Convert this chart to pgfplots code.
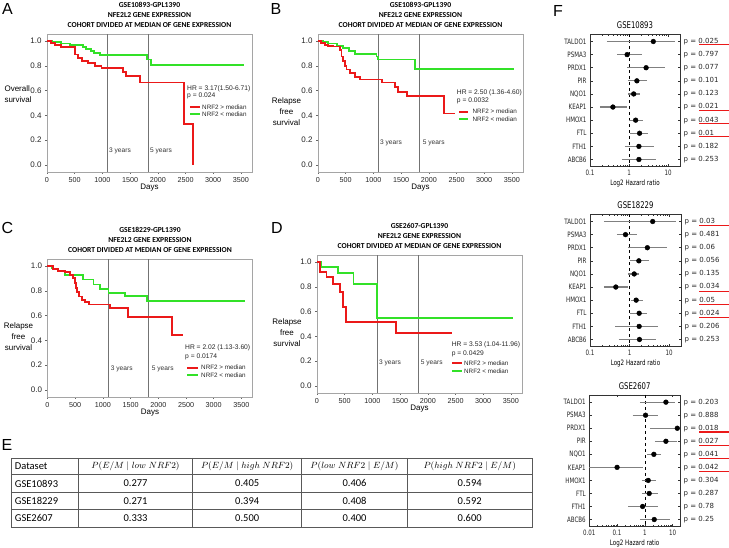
\documentclass[border=0pt]{standalone}
\usepackage{pgfplots}
\pgfplotsset{compat=1.18}
\usepackage{fontspec}
\setmainfont{Liberation Sans}
\newfontfamily\carlito{Carlito}
\newfontfamily\fcond[FakeStretch=0.75]{DejaVu Sans}
\newfontfamily\deja{DejaVu Sans}
\definecolor{kmred}{RGB}{235,25,25}
\definecolor{kmgreen}{RGB}{50,225,40}
\definecolor{framegray}{RGB}{165,165,165}

\pgfplotsset{
  kmaxis/.style={
    scale only axis, width=205pt, height=138pt,
    xmin=0, xmax=3700, ymin=-0.056, ymax=1.056,
    xtick={0,500,1000,1500,2000,2500,3000,3500},
    xticklabels={0,500,1000,1500,2000,2500,3000,3500},
    ytick={0,0.2,0.4,0.6,0.8,1},
    yticklabels={0.0,0.2,0.4,0.6,0.8,1.0},
    xticklabel style={font=\fontsize{7.2}{8}\selectfont, text=black!85},
    yticklabel style={font=\fontsize{8}{9}\selectfont, text=black!85},
    tick align=outside, tick pos=left, major tick length=2pt,
    axis line style={framegray, line width=0.6pt},
    tick style={black!60, line width=0.5pt},
    xlabel={Days}, xlabel style={font=\fontsize{8}{9}\selectfont, yshift=5pt},
    clip=false,
    title style={font=\carlito\bfseries\fontsize{7.6}{10}\selectfont, align=center, yshift=-3pt},
  },
  redcurve/.style={const plot, color=kmred, line width=1.8pt, mark=none},
  greencurve/.style={const plot, color=kmgreen, line width=1.8pt, mark=none},
  yrline/.style={black!55, line width=0.8pt, forget plot},
  forestaxis/.style={
    scale only axis,
    ymin=-0.55, ymax=9.55, y dir=reverse,
    ytick={0,1,2,3,4,5,6,7,8,9},
    yticklabels={TALDO1,PSMA3,PRDX1,PIR,NQO1,KEAP1,HMOX1,FTL,FTH1,ABCB6},
    tick label style={font=\fcond\fontsize{7.4}{8}\selectfont, text=black!85},
    xlabel={Log2 Hazard ratio}, xlabel style={font=\fcond\fontsize{7.4}{8}\selectfont, yshift=3pt},
    title style={font=\fcond\fontsize{9.2}{10}\selectfont, yshift=-4pt},
    ytick pos=both, yticklabel pos=left,
    tick align=inside,
    major tick length=2.5pt, minor tick length=1.5pt,
    axis line style={black!80, line width=0.6pt},
    tick style={black!80, line width=0.5pt},
    clip=false,
  },
  cibar/.style={color=black!50, line width=1.3pt, unbounded coords=jump, mark=none},
  hrdot/.style={only marks, mark=*, mark size=2.4pt, black},
}
\tikzset{
  hrtext/.style={anchor=west, inner sep=0, font=\fontsize{6.7}{7}\selectfont, text=black!85},
  legtext/.style={anchor=west, inner sep=0, font=\fontsize{6.3}{7}\selectfont, text=black!85},
  yrtext/.style={anchor=west, inner sep=0, font=\fontsize{6.6}{7}\selectfont, text=black!80},
  pv/.style={anchor=west, inner sep=0, xshift=3.5pt, font=\deja\fontsize{7}{8}\selectfont, text=black!85},
  letter/.style={font=\fontsize{16}{18}\selectfont},
  ylab/.style={font=\fontsize{8}{11}\selectfont, align=center},
  tab/.style={font=\carlito\fontsize{10.5}{12}\selectfont, inner sep=0},
  tabh/.style={font=\fontsize{9.2}{11}\selectfont, inner sep=0},
  ul/.style={kmred, line width=1.1pt},
}

\begin{document}
\begin{tikzpicture}[x=1pt,y=1pt]
\useasboundingbox (0,0) rectangle (729,548);

% ---------------- A
\begin{axis}[kmaxis, at={(47pt,376pt)}, anchor=south west,
  title={GSE10893-GPL1390\\NFE2L2 GENE EXPRESSION\\COHORT DIVIDED AT MEDIAN OF GENE EXPRESSION}]
\addplot[yrline] coordinates {(1095,-0.056)(1095,1.056)};
\addplot[yrline] coordinates {(1825,-0.056)(1825,1.056)};
\addplot[greencurve] coordinates {(0,1)(100,0.99)(250,0.98)(420,0.97)(650,0.95)(700,0.935)(790,0.92)(850,0.905)(960,0.885)(1800,0.85)(1870,0.805)(3550,0.805)};
\addplot[redcurve] coordinates {(0,1)(70,0.985)(150,0.97)(250,0.95)(505,0.89)(565,0.86)(625,0.84)(745,0.82)(865,0.80)(985,0.785)(1378,0.75)(1426,0.72)(1680,0.665)(2478,0.33)(2640,0)};
\node[hrtext] at (axis cs:2527,0.613) {HR = 3.17(1.50-6.71)};
\node[hrtext] at (axis cs:2527,0.556) {p = 0.024};
\draw[kmred, line width=2pt] (axis cs:2581,0.468) -- (axis cs:2762,0.468);
\node[legtext] at (axis cs:2798,0.468) {NRF2 > median};
\draw[kmgreen, line width=2pt] (axis cs:2581,0.411) -- (axis cs:2762,0.411);
\node[legtext] at (axis cs:2798,0.411) {NRF2 < median};
\node[yrtext] at (axis cs:1119,0.113) {3 years};
\node[yrtext] at (axis cs:1859,0.113) {5 years};
\end{axis}

% ---------------- B
\begin{axis}[kmaxis, at={(318pt,376pt)}, anchor=south west,
  title={GSE10893-GPL1390\\NFE2L2 GENE EXPRESSION\\COHORT DIVIDED AT MEDIAN OF GENE EXPRESSION}]
\addplot[yrline] coordinates {(1095,-0.056)(1095,1.056)};
\addplot[yrline] coordinates {(1825,-0.056)(1825,1.056)};
\addplot[greencurve] coordinates {(0,1)(100,0.99)(185,0.98)(336,0.96)(455,0.94)(560,0.92)(665,0.897)(1055,0.875)(1085,0.85)(1745,0.775)(3540,0.775)};
\addplot[redcurve] coordinates {(0,1)(60,0.985)(120,0.97)(180,0.96)(280,0.955)(400,0.93)(425,0.875)(455,0.84)(485,0.80)(515,0.77)(575,0.74)(665,0.71)(755,0.69)(1150,0.665)(1390,0.63)(1450,0.59)(1600,0.555)(2270,0.415)(2480,0.415)};
\node[hrtext] at (axis cs:2504,0.586) {HR = 2.50 (1.36-4.60)};
\node[hrtext] at (axis cs:2504,0.514) {p = 0.0032};
\draw[kmred, line width=2pt] (axis cs:2546,0.43) -- (axis cs:2708,0.43);
\node[legtext] at (axis cs:2785,0.43) {NRF2 > median};
\draw[kmgreen, line width=2pt] (axis cs:2546,0.369) -- (axis cs:2708,0.369);
\node[legtext] at (axis cs:2785,0.369) {NRF2 < median};
\node[yrtext] at (axis cs:1119,0.18) {3 years};
\node[yrtext] at (axis cs:1890,0.18) {5 years};
\end{axis}

% ---------------- C
\begin{axis}[kmaxis, at={(47.5pt,151pt)}, anchor=south west,
  title={GSE18229-GPL1390\\NFE2L2 GENE EXPRESSION\\COHORT DIVIDED AT MEDIAN OF GENE EXPRESSION}]
\addplot[yrline] coordinates {(1095,-0.056)(1095,1.056)};
\addplot[yrline] coordinates {(1825,-0.056)(1825,1.056)};
\addplot[greencurve] coordinates {(0,1)(80,0.98)(180,0.96)(316,0.93)(640,0.89)(830,0.85)(950,0.815)(1100,0.78)(1400,0.755)(1790,0.715)(3560,0.715)};
\addplot[redcurve] coordinates {(0,1)(105,0.976)(195,0.96)(316,0.95)(406,0.927)(466,0.906)(496,0.86)(514,0.82)(538,0.793)(574,0.753)(617,0.726)(677,0.707)(755,0.69)(1128,0.659)(1459,0.59)(2242,0.444)(2451,0.444)};
\node[hrtext] at (axis cs:2482,0.341) {HR = 2.02 (1.13-3.60)};
\node[hrtext] at (axis cs:2482,0.269) {p = 0.0174};
\draw[kmred, line width=2pt] (axis cs:2518,0.18) -- (axis cs:2717,0.18);
\node[legtext] at (axis cs:2771,0.18) {NRF2 > median};
\draw[kmgreen, line width=2pt] (axis cs:2518,0.121) -- (axis cs:2717,0.121);
\node[legtext] at (axis cs:2771,0.121) {NRF2 < median};
\node[yrtext] at (axis cs:1141,0.169) {3 years};
\node[yrtext] at (axis cs:1881,0.169) {5 years};
\end{axis}

% ---------------- D
\begin{axis}[kmaxis, at={(317pt,155pt)}, anchor=south west,
  title={GSE2607-GPL1390\\NFE2L2 GENE EXPRESSION\\COHORT DIVIDED AT MEDIAN OF GENE EXPRESSION}]
\addplot[yrline] coordinates {(1095,-0.056)(1095,1.056)};
\addplot[yrline] coordinates {(1825,-0.056)(1825,1.056)};
\addplot[greencurve] coordinates {(0,1)(75,0.962)(375,0.909)(660,0.823)(1080,0.546)(3540,0.546)};
\addplot[redcurve] coordinates {(0,1)(60,0.922)(170,0.877)(290,0.82)(410,0.756)(470,0.637)(520,0.519)(1430,0.43)(2430,0.43)};
\node[hrtext] at (axis cs:2431,0.331) {HR = 3.53 (1.04-11.96)};
\node[hrtext] at (axis cs:2431,0.258) {p = 0.0429};
\draw[kmred, line width=2pt] (axis cs:2437,0.185) -- (axis cs:2617,0.185);
\node[legtext] at (axis cs:2653,0.185) {NRF2 > median};
\draw[kmgreen, line width=2pt] (axis cs:2437,0.121) -- (axis cs:2617,0.121);
\node[legtext] at (axis cs:2653,0.121) {NRF2 < median};
\node[yrtext] at (axis cs:1119,0.185) {3 years};
\node[yrtext] at (axis cs:1872,0.185) {5 years};
\end{axis}

% y labels and letters
\node[ylab, anchor=west, align=left] at (1,454) {Overall\\survival};
\node[ylab] at (286.5,436.7) {Relapse\\free\\survival};
\node[ylab] at (18.5,211.3) {Relapse\\free\\survival};
\node[ylab] at (287,215.5) {Relapse\\free\\survival};
\node[letter] at (7.5,539) {A};
\node[letter] at (276,539) {B};
\node[letter] at (7.5,320.5) {C};
\node[letter] at (277,320) {D};
\node[letter] at (7,103) {E};
\node[letter] at (558,537) {F};

% ---------------- E table
\draw[black!65, line width=0.6pt] (11,90) rectangle (532,21);
\foreach \yy in {73.5,56,38.5} \draw[black!65, line width=0.6pt] (11,\yy) -- (532,\yy);
\foreach \xx in {78.3,192.7,301.7,407.3} \draw[black!65, line width=0.6pt] (\xx,90) -- (\xx,21);
\node[tab, anchor=west] at (14.7,82) {Dataset};
\node[tabh] at (135.5,82) {$P(E/M \mid low\ NRF2)$};
\node[tabh] at (247.2,82) {$P(E/M \mid high\ NRF2)$};
\node[tabh] at (354.5,82) {$P(low\ NRF2 \mid E/M)$};
\node[tabh] at (469.7,82) {$P(high\ NRF2 \mid E/M)$};
\node[tab, anchor=west] at (14.7,64.5) {GSE10893};
\node[tab, anchor=west] at (14.7,47) {GSE18229};
\node[tab, anchor=west] at (14.7,30) {GSE2607};
\node[tab] at (135.5,64.5) {0.277};
\node[tab] at (247.2,64.5) {0.405};
\node[tab] at (354.5,64.5) {0.406};
\node[tab] at (469.7,64.5) {0.594};
\node[tab] at (135.5,47) {0.271};
\node[tab] at (247.2,47) {0.394};
\node[tab] at (354.5,47) {0.408};
\node[tab] at (469.7,47) {0.592};
\node[tab] at (135.5,30) {0.333};
\node[tab] at (247.2,30) {0.500};
\node[tab] at (354.5,30) {0.400};
\node[tab] at (469.7,30) {0.600};

% ---------------- F1
\begin{axis}[forestaxis, xmode=log, at={(590pt,381.3pt)}, anchor=south west, width=90pt, height=132.4pt,
  xmin=0.1, xmax=20, xtick={0.1,1,10}, xticklabels={0.1,1,10},
  minor xtick={0.2,0.3,0.4,0.5,0.6,0.7,0.8,0.9,2,3,4,5,6,7,8,9}, title={GSE10893}]
\addplot[black, dashed, line width=0.7pt, forget plot] coordinates {(1,-0.55)(1,9.55)};
\addplot[cibar] coordinates {(0.27,0)(15.3,0) (nan,nan) (0.5,1)(2.16,1) (nan,nan) (0.89,2)(8.27,2) (nan,nan) (0.94,3)(2.82,3) (nan,nan) (0.94,4)(1.85,4) (nan,nan) (0.178,5)(0.89,5) (nan,nan) (1.0,6)(2.33,6) (nan,nan) (1.08,7)(2.99,7) (nan,nan) (0.78,8)(4.39,8) (nan,nan) (0.65,9)(5.0,9)};
\addplot[hrdot] coordinates {(4.15,0)(0.89,1)(2.72,2)(1.58,3)(1.31,4)(0.385,5)(1.47,6)(1.85,7)(1.78,8)(1.78,9)};
\node[pv] at (axis cs:20,0) {p = 0.025};
\node[pv] at (axis cs:20,1) {p = 0.797};
\node[pv] at (axis cs:20,2) {p = 0.077};
\node[pv] at (axis cs:20,3) {p = 0.101};
\node[pv] at (axis cs:20,4) {p = 0.123};
\node[pv] at (axis cs:20,5) {p = 0.021};
\node[pv] at (axis cs:20,6) {p = 0.043};
\node[pv] at (axis cs:20,7) {p = 0.01};
\node[pv] at (axis cs:20,8) {p = 0.182};
\node[pv] at (axis cs:20,9) {p = 0.253};
\end{axis}

% ---------------- F2
\begin{axis}[forestaxis, xmode=log, at={(590pt,201.3pt)}, anchor=south west, width=91pt, height=132.4pt,
  xmin=0.1, xmax=20, xtick={0.1,1,10}, xticklabels={0.1,1,10},
  minor xtick={0.2,0.3,0.4,0.5,0.6,0.7,0.8,0.9,2,3,4,5,6,7,8,9}, title={GSE18229}]
\addplot[black, dashed, line width=0.7pt, forget plot] coordinates {(1,-0.55)(1,9.55)};
\addplot[cibar] coordinates {(0.224,0)(15.3,0) (nan,nan) (0.48,1)(1.53,1) (nan,nan) (0.94,2)(8.6,2) (nan,nan) (1.0,3)(3.05,3) (nan,nan) (0.91,4)(1.78,4) (nan,nan) (0.224,5)(0.94,5) (nan,nan) (1.08,6)(2.24,6) (nan,nan) (1.0,7)(2.82,7) (nan,nan) (0.44,8)(5.3,8) (nan,nan) (0.53,9)(4.65,9)};
\addplot[hrdot] coordinates {(3.85,0)(0.79,1)(2.82,2)(1.72,3)(1.31,4)(0.45,5)(1.47,6)(1.75,7)(1.75,8)(1.78,9)};
\node[pv] at (axis cs:20,0) {p = 0.03};
\node[pv] at (axis cs:20,1) {p = 0.481};
\node[pv] at (axis cs:20,2) {p = 0.06};
\node[pv] at (axis cs:20,3) {p = 0.056};
\node[pv] at (axis cs:20,4) {p = 0.135};
\node[pv] at (axis cs:20,5) {p = 0.034};
\node[pv] at (axis cs:20,6) {p = 0.05};
\node[pv] at (axis cs:20,7) {p = 0.024};
\node[pv] at (axis cs:20,8) {p = 0.206};
\node[pv] at (axis cs:20,9) {p = 0.253};
\end{axis}

% ---------------- F3
\begin{axis}[forestaxis, xmode=log, at={(589.3pt,21.3pt)}, anchor=south west, width=90.7pt, height=131.7pt,
  xmin=0.01, xmax=18.4, xtick={0.01,0.1,1,10}, xticklabels={0.01,0.1,1,10},
  minor xtick={0.02,0.03,0.04,0.05,0.06,0.07,0.08,0.09,0.2,0.3,0.4,0.5,0.6,0.7,0.8,0.9,2,3,4,5,6,7,8,9}, title={GSE2607}]
\addplot[black, dashed, line width=0.7pt, forget plot] coordinates {(1,-0.55)(1,9.55)};
\addplot[cibar] coordinates {(0.66,0)(12.1,0) (nan,nan) (0.36,1)(3.02,1) (nan,nan) (1.51,2)(18.4,2) (nan,nan) (2.3,3)(13.9,3) (nan,nan) (1.21,4)(3.69,4) (nan,nan) (0.01,5)(0.87,5) (nan,nan) (0.76,6)(2.5,6) (nan,nan) (0.76,7)(3.02,7) (nan,nan) (0.25,8)(3.02,8) (nan,nan) (0.66,9)(8.0,9)};
\addplot[hrdot] coordinates {(5.73,0)(1.06,1)(14.7,2)(5.73,3)(2.11,4)(0.1,5)(1.32,6)(1.43,7)(0.83,8)(2.17,9)};
\node[pv] at (axis cs:18.4,0) {p = 0.203};
\node[pv] at (axis cs:18.4,1) {p = 0.888};
\node[pv] at (axis cs:18.4,2) {p = 0.018};
\node[pv] at (axis cs:18.4,3) {p = 0.027};
\node[pv] at (axis cs:18.4,4) {p = 0.041};
\node[pv] at (axis cs:18.4,5) {p = 0.042};
\node[pv] at (axis cs:18.4,6) {p = 0.304};
\node[pv] at (axis cs:18.4,7) {p = 0.287};
\node[pv] at (axis cs:18.4,8) {p = 0.78};
\node[pv] at (axis cs:18.4,9) {p = 0.25};
\end{axis}

% red underlines
\foreach \yy in {44.8,110.3,123.4,136.5,225.5,291.3,304.4,317.6,432,445.2,458.3,471.5}
  \draw[ul] (699,548-\yy) -- (729,548-\yy);
\end{tikzpicture}
\end{document}
